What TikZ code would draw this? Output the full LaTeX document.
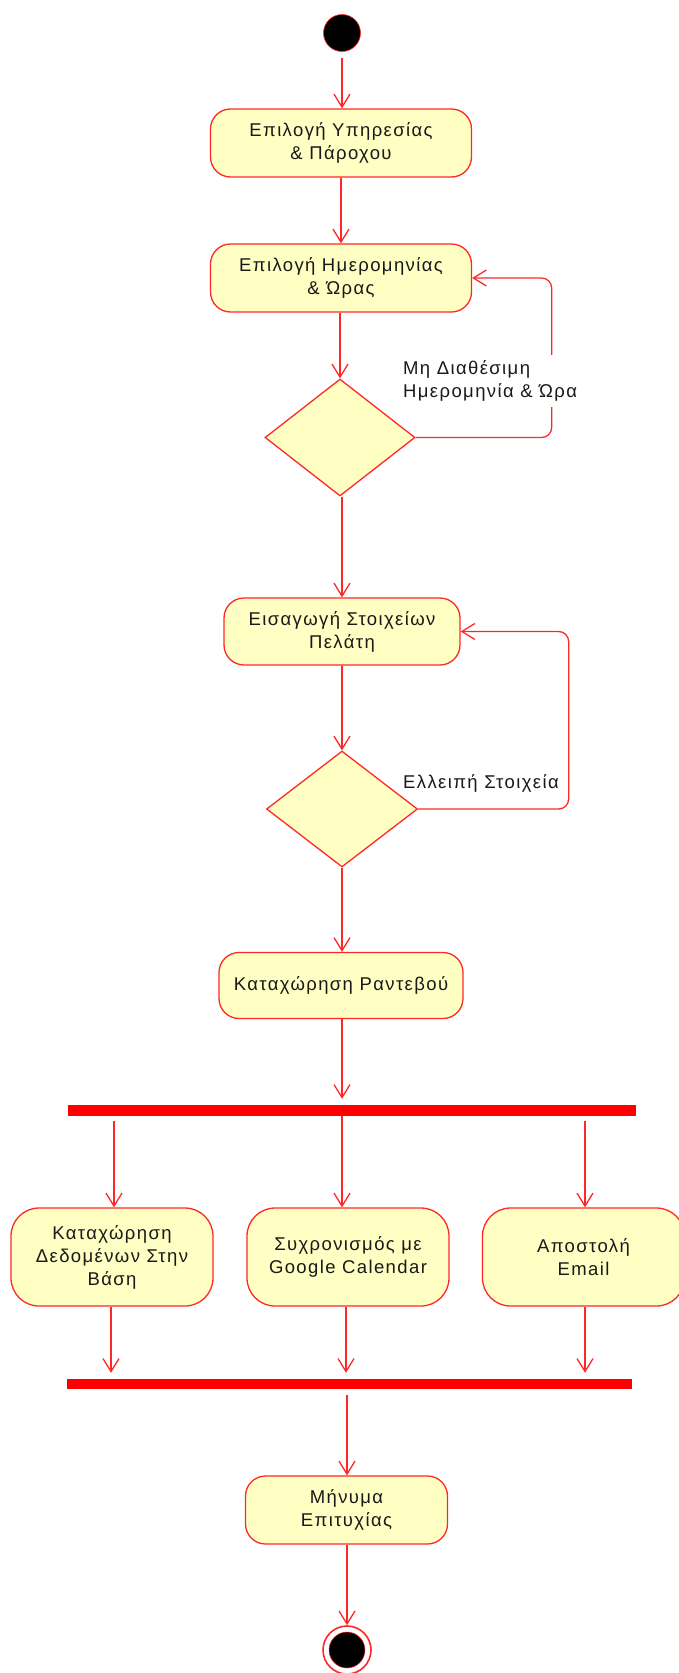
\documentclass[tikz,border=0pt]{standalone}
\usepackage{fontspec}
\setmainfont{Liberation Sans}[LetterSpace=7.5]
\usetikzlibrary{arrows.meta,shapes.geometric,calc}
\definecolor{umlred}{RGB}{255,40,40}
\definecolor{barred}{RGB}{255,0,0}
\definecolor{umlfill}{RGB}{255,255,196}
\definecolor{umltext}{RGB}{25,25,25}
\begin{document}
\begin{tikzpicture}[x=1pt,y=-1pt,
  txt/.style={text=umltext, font=\fontsize{18.5}{23}\selectfont},
  act/.style={txt, draw=umlred, fill=umlfill, line width=1.3pt, rounded corners=20pt,
    inner sep=0pt, align=center, minimum height=68pt},
  bigact/.style={act, rounded corners=28pt, minimum width=202pt, minimum height=98pt},
  decision/.style={diamond, draw=umlred, fill=umlfill, line width=1.3pt,
    minimum width=150pt, minimum height=117pt, inner sep=0pt},
  bar/.style={rectangle, fill=barred, draw=none, inner sep=0pt},
  arr/.style={draw=umlred, line width=1.3pt, -{Straight Barb[length=13pt,width=16pt]}},
  lbl/.style={txt, align=left, inner sep=0pt}
]
\useasboundingbox (0,0) rectangle (678,1673);

% start
\node[circle, fill=black, draw=umlred, line width=0.6pt, minimum size=37pt, inner sep=0pt] (start) at (342,33) {};

% actions
\node[act, minimum width=261pt] (b1) at (341,143) {Επιλογή Υπηρεσίας\\\& Πάροχου};
\node[act, minimum width=261pt] (b2) at (341,278) {Επιλογή Ημερομηνίας\\\& Ώρας};
\node[decision] (d1) at (340,437.5) {};
\node[act, minimum width=236pt, minimum height=67pt] (b3) at (342,631.5) {Εισαγωγή Στοιχείων\\Πελάτη};
\node[decision, minimum width=151pt, minimum height=116pt] (d2) at (342,809) {};
\node[act, minimum width=244pt, minimum height=66pt] (b4) at (341,985.5) {Καταχώρηση Ραντεβού};

% fork
\node[bar, minimum width=568pt, minimum height=11pt] (fork) at (352,1110.5) {};
\node[bigact] (ba) at (112,1257) {Καταχώρηση\\Δεδομένων Στην\\Βάση};
\node[bigact] (bb) at (348,1257) {Συχρονισμός με\\Google Calendar};
\node[bigact] (bc) at (583.5,1257) {Αποστολή\\Email};
\node[bar, minimum width=565pt, minimum height=10pt] (join) at (349.5,1384) {};

\node[act, minimum width=202pt] (b5) at (346.5,1510) {Μήνυμα\\Επιτυχίας};

% end
\node[circle, fill=white, draw=umlred, line width=1.6pt, minimum size=48pt, inner sep=0pt] (endo) at (347,1650) {};
\node[circle, fill=black, draw=umlred, line width=0.5pt, minimum size=36pt, inner sep=0pt] (endi) at (endo.center) {};

% connectors
\draw[arr, shorten <=6pt] (start.south) -- (start.south |- b1.north);
\draw[arr] (b1.south) -- (b1.south |- b2.north);
\draw[arr] (b2.south -| d1.north) -- (d1.north);
\draw[arr, rounded corners=10pt] (d1.east) -- ++(136,0) |- (b2.east);
\node[lbl, fill=white, inner xsep=2pt, inner ysep=6pt, anchor=west] (l1) at (401,381) {Μη Διαθέσιμη\\Ημερομηνία \& Ώρα};
\draw[arr] (d1.south -| b3.north) -- (b3.north);
\draw[arr] (b3.south) -- (d2.north);
\draw[arr, rounded corners=10pt] (d2.east) -- ++(150.5,0) |- (b3.east);
\node[lbl, anchor=base west] (l2) at (403,788) {Ελλειπή Στοιχεία};
\draw[arr] (d2.south) -- (d2.south |- b4.north);
\draw[arr, shorten >=6pt] (b4.south -| d2.south) -- (d2.south |- fork.north);

\coordinate (fa) at ([yshift=-5pt,xshift=2pt]fork.south -| ba.north);
\coordinate (fb) at ([xshift=-6pt]fork.south -| bb.north);
\coordinate (fc) at ([yshift=-5pt,xshift=1.5pt]fork.south -| bc.north);
\draw[arr] (fa) -- ([xshift=2pt]ba.north);
\draw[arr] (fb) -- ([xshift=-6pt]bb.north);
\draw[arr] (fc) -- ([xshift=1.5pt]bc.north);

\draw[arr, shorten >=6pt] ([xshift=-1pt]ba.south) -- ([xshift=-1pt]ba.south |- join.north);
\draw[arr, shorten >=6pt] ([xshift=-2pt]bb.south) -- ([xshift=-2pt]bb.south |- join.north);
\draw[arr, shorten >=6pt] ([xshift=1.5pt]bc.south) -- ([xshift=1.5pt]bc.south |- join.north);

\draw[arr] ([yshift=-6pt]join.south -| endo.north) -- (endo.north |- b5.north);
\draw[arr] (b5.south -| endo.north) -- (endo.north);
\end{tikzpicture}
\end{document}
